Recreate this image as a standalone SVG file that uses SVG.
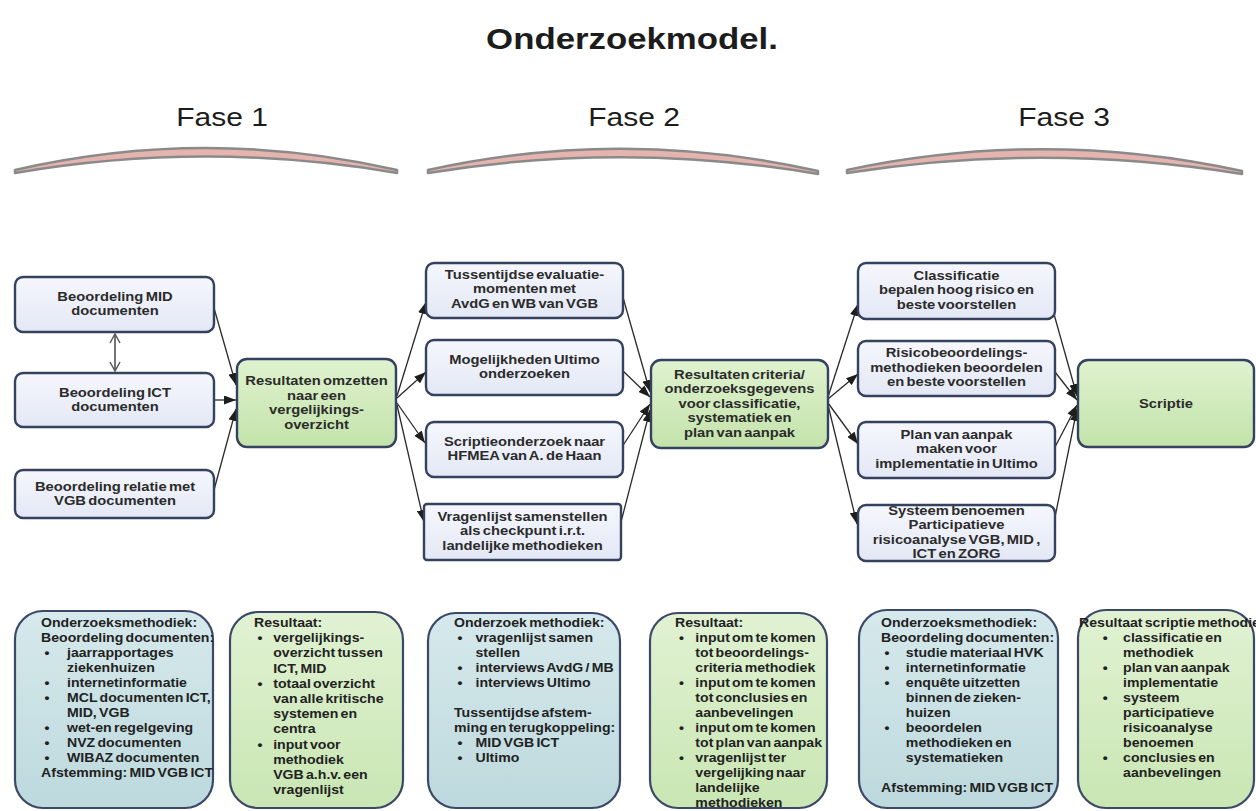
<svg xmlns="http://www.w3.org/2000/svg" width="1256" height="811" viewBox="0 0 1256 811">
  <defs>
    <linearGradient id="gLight" x1="0" y1="0" x2="0" y2="1">
      <stop offset="0" stop-color="#f6f7fd"/>
      <stop offset="1" stop-color="#e3e8f5"/>
    </linearGradient>
    <linearGradient id="gGreen" x1="0" y1="0" x2="0" y2="1">
      <stop offset="0" stop-color="#e0f2d0"/>
      <stop offset="1" stop-color="#c3e3aa"/>
    </linearGradient>
    <linearGradient id="gTeal" x1="0" y1="0" x2="0" y2="1">
      <stop offset="0" stop-color="#d6e9ec"/>
      <stop offset="1" stop-color="#bdd9dd"/>
    </linearGradient>
    <linearGradient id="gRes" x1="0" y1="0" x2="0" y2="1">
      <stop offset="0" stop-color="#e1f2d3"/>
      <stop offset="1" stop-color="#c9e6b3"/>
    </linearGradient>
    <marker id="head" markerUnits="userSpaceOnUse" markerWidth="12" markerHeight="9" refX="12" refY="4.5" orient="auto">
      <path d="M0,0 L12,4.5 L0,9 Z" fill="#1e1e1e"/>
    </marker>
    <marker id="vhead" markerUnits="userSpaceOnUse" markerWidth="12" markerHeight="12" refX="10" refY="6" orient="auto-start-reverse">
      <path d="M1,1 L10,6 L1,11" fill="none" stroke="#555" stroke-width="1.4"/>
    </marker>
  </defs>
  <style>
    .title { font-family: "Liberation Sans", Arial, sans-serif; font-weight: bold; font-size: 29px; fill: #1c1c1c; text-anchor: middle; }
    .fase { font-family: "Liberation Sans", Arial, sans-serif; font-size: 25px; fill: #1c1c1c; text-anchor: middle; }
    .arc { fill: #e5b4ae; stroke: #8a8a8a; stroke-width: 2.5; stroke-linejoin: round; }
    .box { fill: url(#gLight); stroke: #34415f; stroke-width: 2.4; }
    .grn { fill: url(#gGreen); stroke: #34415f; stroke-width: 2.4; }
    .teal { fill: url(#gTeal); stroke: #3b4868; stroke-width: 2.2; }
    .res { fill: url(#gRes); stroke: #3b4868; stroke-width: 2.2; }
    .nt { font-family: "Liberation Sans", Arial, sans-serif; font-weight: bold; font-size: 12.5px; fill: #2b2b2b; text-anchor: middle; word-spacing: -1.5px; }
    .bt { font-family: "Liberation Sans", Arial, sans-serif; font-weight: bold; font-size: 12.5px; fill: #222; word-spacing: -1.5px; }
    .conn line { stroke: #2a2a2a; stroke-width: 1.3; marker-end: url(#head); }
    .dbl { stroke: #555; stroke-width: 1.4; marker-start: url(#vhead); marker-end: url(#vhead); }
  </style>

  <rect width="1256" height="811" fill="#ffffff"/>

  <!-- heading and phase bars -->
  <text class="title" transform="translate(632 0) scale(1.2 1)" x="0" y="49">Onderzoekmodel.</text>

  <g id="fase1">
    <text class="fase" transform="translate(222 0) scale(1.2 1)" x="0" y="126">Fase 1</text>
    <path class="arc" d="M15,170 Q206,126 397,170 L397,173 Q206,140 15,173 Z"/>
  </g>
  <g id="fase2">
    <text class="fase" transform="translate(634 0) scale(1.2 1)" x="0" y="126">Fase 2</text>
    <path class="arc" d="M428,170 Q623,127 818,171 L818,174 Q623,141 428,173 Z"/>
  </g>
  <g id="fase3">
    <text class="fase" transform="translate(1064 0) scale(1.2 1)" x="0" y="126">Fase 3</text>
    <path class="arc" d="M847,170 Q1044,128 1242,171 L1242,174 Q1044,142 847,173 Z"/>
  </g>

  <!-- connectors -->
  <g id="connectors" class="conn">
    <line class="dbl" x1="115" y1="334" x2="115" y2="371" style="marker-end:url(#vhead)"/>
    <line x1="214" y1="308" x2="236" y2="385"/>
    <line x1="214" y1="400" x2="236" y2="400"/>
    <line x1="214" y1="490" x2="236" y2="409"/>

    <line x1="397" y1="396" x2="426" y2="302"/>
    <line x1="397" y1="398" x2="426" y2="372"/>
    <line x1="397" y1="403" x2="425" y2="443"/>
    <line x1="397" y1="405" x2="424" y2="522"/>

    <line x1="622" y1="294" x2="650" y2="392"/>
    <line x1="622" y1="370" x2="650" y2="397"/>
    <line x1="622" y1="447" x2="650" y2="404"/>
    <line x1="621" y1="522" x2="650" y2="410"/>

    <line x1="828" y1="397" x2="858" y2="304"/>
    <line x1="828" y1="399" x2="858" y2="374"/>
    <line x1="828" y1="403" x2="858" y2="444"/>
    <line x1="828" y1="405" x2="857" y2="524"/>

    <line x1="1052" y1="307" x2="1077" y2="396"/>
    <line x1="1055" y1="372" x2="1077" y2="400"/>
    <line x1="1055" y1="447" x2="1077" y2="405"/>
    <line x1="1055" y1="517" x2="1077" y2="409"/>
  </g>

  <!-- phase 1 -->
  <g id="mid">
    <rect class="box" x="15" y="277" width="199" height="55" rx="8"/>
    <text class="nt" transform="translate(115 0) scale(1.18 1)"><tspan x="0" y="301.5">Beoordeling MID</tspan><tspan x="0" dy="14">documenten</tspan></text>
  </g>
  <g id="ict">
    <rect class="box" x="15" y="373" width="199" height="54" rx="8"/>
    <text class="nt" transform="translate(115 0) scale(1.18 1)"><tspan x="0" y="397">Beoordeling ICT</tspan><tspan x="0" dy="14">documenten</tspan></text>
  </g>
  <g id="vgb">
    <rect class="box" x="15" y="470" width="199" height="48" rx="8"/>
    <text class="nt" transform="translate(115 0) scale(1.18 1)"><tspan x="0" y="491.5">Beoordeling relatie met</tspan><tspan x="0" dy="14">VGB documenten</tspan></text>
  </g>
  <g id="omzetten">
    <rect class="grn" x="237" y="359" width="159" height="88" rx="10"/>
    <text class="nt" transform="translate(316.5 0) scale(1.18 1)"><tspan x="0" y="385.5">Resultaten omzetten</tspan><tspan x="0" dy="14.5">naar een</tspan><tspan x="0" dy="14.5">vergelijkings-</tspan><tspan x="0" dy="14.5">overzicht</tspan></text>
  </g>

  <!-- phase 2 -->
  <g id="evaluatie">
    <rect class="box" x="426" y="263" width="197" height="55" rx="8"/>
    <text class="nt" transform="translate(524.5 0) scale(1.18 1)"><tspan x="0" y="279">Tussentijdse evaluatie-</tspan><tspan x="0" dy="14.5">momenten met</tspan><tspan x="0" dy="14.5">AvdG en WB van VGB</tspan></text>
  </g>
  <g id="ultimo">
    <rect class="box" x="426" y="340" width="197" height="55" rx="8"/>
    <text class="nt" transform="translate(524.5 0) scale(1.18 1)"><tspan x="0" y="364">Mogelijkheden Ultimo</tspan><tspan x="0" dy="14.5">onderzoeken</tspan></text>
  </g>
  <g id="hfmea">
    <rect class="box" x="426" y="422" width="197" height="55" rx="8"/>
    <text class="nt" transform="translate(524.5 0) scale(1.18 1)"><tspan x="0" y="446">Scriptieonderzoek naar</tspan><tspan x="0" dy="14.5">HFMEA van A. de Haan</tspan></text>
  </g>
  <g id="vragenlijst">
    <rect class="box" x="424" y="504" width="197" height="56" rx="3"/>
    <text class="nt" transform="translate(522.5 0) scale(1.18 1)"><tspan x="0" y="521">Vragenlijst samenstellen</tspan><tspan x="0" dy="14.5">als checkpunt i.r.t.</tspan><tspan x="0" dy="14.5">landelijke methodieken</tspan></text>
  </g>
  <g id="criteria">
    <rect class="grn" x="651" y="360" width="177" height="88" rx="10"/>
    <text class="nt" transform="translate(739.5 0) scale(1.18 1)"><tspan x="0" y="379">Resultaten criteria/</tspan><tspan x="0" dy="14.5">onderzoeksgegevens</tspan><tspan x="0" dy="14.5">voor classificatie,</tspan><tspan x="0" dy="14.5">systematiek en</tspan><tspan x="0" dy="14.5">plan van aanpak</tspan></text>
  </g>

  <!-- phase 3 -->
  <g id="classificatie">
    <rect class="box" x="858" y="263" width="197" height="56" rx="8"/>
    <text class="nt" transform="translate(956.5 0) scale(1.18 1)"><tspan x="0" y="280">Classificatie</tspan><tspan x="0" dy="14.5">bepalen hoog risico en</tspan><tspan x="0" dy="14.5">beste voorstellen</tspan></text>
  </g>
  <g id="risico">
    <rect class="box" x="858" y="341" width="197" height="55" rx="8"/>
    <text class="nt" transform="translate(956.5 0) scale(1.18 1)"><tspan x="0" y="357.5">Risicobeoordelings-</tspan><tspan x="0" dy="14.5">methodieken beoordelen</tspan><tspan x="0" dy="14.5">en beste voorstellen</tspan></text>
  </g>
  <g id="plan">
    <rect class="box" x="858" y="422" width="197" height="56" rx="8"/>
    <text class="nt" transform="translate(956.5 0) scale(1.18 1)"><tspan x="0" y="439">Plan van aanpak</tspan><tspan x="0" dy="14.5">maken voor</tspan><tspan x="0" dy="14.5">implementatie in Ultimo</tspan></text>
  </g>
  <g id="systeem">
    <rect class="box" x="858" y="505" width="197" height="56" rx="8" style="stroke:none"/>
    <text class="nt" transform="translate(956.5 0) scale(1.18 1)"><tspan x="0" y="515">Systeem benoemen</tspan><tspan x="0" dy="14.5">Participatieve</tspan><tspan x="0" dy="14.5">risicoanalyse VGB, MID ,</tspan><tspan x="0" dy="14.5">ICT en ZORG</tspan></text>
    <rect class="box" x="858" y="505" width="197" height="56" rx="8" style="fill:none"/>
  </g>
  <g id="scriptie">
    <rect class="grn" x="1078" y="360" width="176" height="87" rx="10"/>
    <text class="nt" transform="translate(1166 0) scale(1.18 1)" x="0" y="408">Scriptie</text>
  </g>

  <!-- method and result panels -->
  <g id="methodiek1">
    <rect class="teal" x="15" y="611" width="198" height="197" rx="28"/>
    <text class="bt" transform="translate(41 0) scale(1.13 1)">
      <tspan x="0" y="627">Onderzoeksmethodiek:</tspan>
      <tspan x="0" dy="15">Beoordeling documenten:</tspan>
      <tspan x="3" dy="15">•</tspan><tspan x="23">jaarrapportages</tspan>
      <tspan x="23" dy="15">ziekenhuizen</tspan>
      <tspan x="3" dy="15">•</tspan><tspan x="23">internetinformatie</tspan>
      <tspan x="3" dy="15">•</tspan><tspan x="23">MCL documenten ICT,</tspan>
      <tspan x="23" dy="15">MID, VGB</tspan>
      <tspan x="3" dy="15">•</tspan><tspan x="23">wet-en regelgeving</tspan>
      <tspan x="3" dy="15">•</tspan><tspan x="23">NVZ documenten</tspan>
      <tspan x="3" dy="15">•</tspan><tspan x="23">WIBAZ documenten</tspan>
      <tspan x="0" dy="15">Afstemming: MID VGB ICT</tspan>
    </text>
  </g>
  <g id="resultaat1">
    <rect class="res" x="230" y="612" width="173" height="196" rx="28"/>
    <text class="bt" transform="translate(254 0) scale(1.13 1)">
      <tspan x="0" y="627">Resultaat:</tspan>
      <tspan x="3" dy="15.2">•</tspan><tspan x="17">vergelijkings-</tspan>
      <tspan x="17" dy="15.2">overzicht tussen</tspan>
      <tspan x="17" dy="15.2">ICT, MID</tspan>
      <tspan x="3" dy="15.2">•</tspan><tspan x="17">totaal overzicht</tspan>
      <tspan x="17" dy="15.2">van alle kritische</tspan>
      <tspan x="17" dy="15.2">systemen en</tspan>
      <tspan x="17" dy="15.2">centra</tspan>
      <tspan x="3" dy="15.2">•</tspan><tspan x="17">input voor</tspan>
      <tspan x="17" dy="15.2">methodiek</tspan>
      <tspan x="17" dy="15.2">VGB a.h.v. een</tspan>
      <tspan x="17" dy="15.2">vragenlijst</tspan>
    </text>
  </g>
  <g id="methodiek2">
    <rect class="teal" x="428" y="613" width="192" height="195" rx="28"/>
    <text class="bt" transform="translate(454 0) scale(1.13 1)">
      <tspan x="0" y="627">Onderzoek methodiek:</tspan>
      <tspan x="3" dy="15">•</tspan><tspan x="19">vragenlijst samen</tspan>
      <tspan x="19" dy="15">stellen</tspan>
      <tspan x="3" dy="15">•</tspan><tspan x="19">interviews AvdG / MB</tspan>
      <tspan x="3" dy="15">•</tspan><tspan x="19">interviews Ultimo</tspan>
      <tspan x="0" dy="30">Tussentijdse afstem-</tspan>
      <tspan x="0" dy="15">ming en terugkoppeling:</tspan>
      <tspan x="3" dy="15">•</tspan><tspan x="19">MID VGB ICT</tspan>
      <tspan x="3" dy="15">•</tspan><tspan x="19">Ultimo</tspan>
    </text>
  </g>
  <g id="resultaat2">
    <rect class="res" x="650" y="613" width="177" height="195" rx="28"/>
    <text class="bt" transform="translate(675 0) scale(1.13 1)">
      <tspan x="0" y="627">Resultaat:</tspan>
      <tspan x="3.5" dy="15">•</tspan><tspan x="18">input om te komen</tspan>
      <tspan x="18" dy="15">tot beoordelings-</tspan>
      <tspan x="18" dy="15">criteria methodiek</tspan>
      <tspan x="3.5" dy="15">•</tspan><tspan x="18">input om te komen</tspan>
      <tspan x="18" dy="15">tot conclusies en</tspan>
      <tspan x="18" dy="15">aanbevelingen</tspan>
      <tspan x="3.5" dy="15">•</tspan><tspan x="18">input om te komen</tspan>
      <tspan x="18" dy="15">tot plan van aanpak</tspan>
      <tspan x="3.5" dy="15">•</tspan><tspan x="18">vragenlijst ter</tspan>
      <tspan x="18" dy="15">vergelijking naar</tspan>
      <tspan x="18" dy="15">landelijke</tspan>
      <tspan x="18" dy="15">methodieken</tspan>
    </text>
  </g>
  <g id="methodiek3">
    <rect class="teal" x="859" y="610" width="199" height="198" rx="28"/>
    <text class="bt" transform="translate(881 0) scale(1.13 1)">
      <tspan x="0" y="627">Onderzoeksmethodiek:</tspan>
      <tspan x="0" dy="15">Beoordeling documenten:</tspan>
      <tspan x="3" dy="15">•</tspan><tspan x="22">studie materiaal HVK</tspan>
      <tspan x="3" dy="15">•</tspan><tspan x="22">internetinformatie</tspan>
      <tspan x="3" dy="15">•</tspan><tspan x="22">enquête uitzetten</tspan>
      <tspan x="22" dy="15">binnen de zieken-</tspan>
      <tspan x="22" dy="15">huizen</tspan>
      <tspan x="3" dy="15">•</tspan><tspan x="22">beoordelen</tspan>
      <tspan x="22" dy="15">methodieken en</tspan>
      <tspan x="22" dy="15">systematieken</tspan>
      <tspan x="0" dy="30">Afstemming: MID VGB ICT</tspan>
    </text>
  </g>
  <g id="resultaat3">
    <rect class="res" x="1078" y="610" width="176" height="198" rx="28"/>
    <text class="bt" transform="translate(1079 0) scale(1.13 1)">
      <tspan x="0" y="627">Resultaat scriptie methodiek:</tspan>
      <tspan x="21" dy="15">•</tspan><tspan x="39">classificatie en</tspan>
      <tspan x="39" dy="15">methodiek</tspan>
      <tspan x="21" dy="15">•</tspan><tspan x="39">plan van aanpak</tspan>
      <tspan x="39" dy="15">implementatie</tspan>
      <tspan x="21" dy="15">•</tspan><tspan x="39">systeem</tspan>
      <tspan x="39" dy="15">participatieve</tspan>
      <tspan x="39" dy="15">risicoanalyse</tspan>
      <tspan x="39" dy="15">benoemen</tspan>
      <tspan x="21" dy="15">•</tspan><tspan x="39">conclusies en</tspan>
      <tspan x="39" dy="15">aanbevelingen</tspan>
    </text>
  </g>
</svg>
